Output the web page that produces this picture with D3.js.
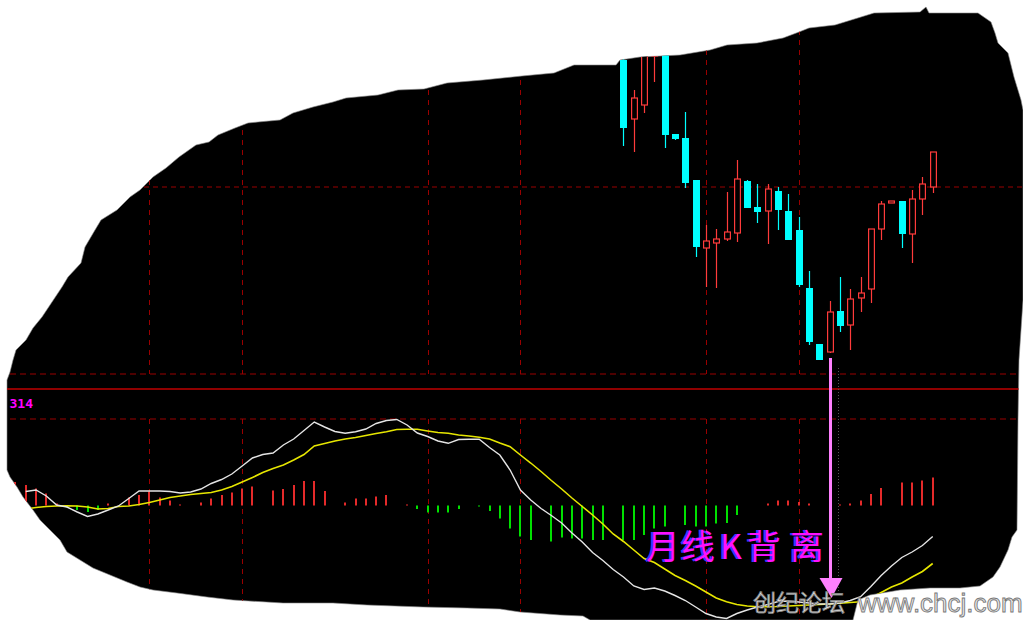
<!DOCTYPE html>
<html><head><meta charset="utf-8">
<script src="https://cdn.jsdelivr.net/npm/d3@7"></script>
<style>html,body{margin:0;padding:0;background:#fff;overflow:hidden}svg{display:block}</style>
</head><body><svg id="c" width="1023" height="620"></svg>
<script>
// ---------- DATA ----------
// monthly candles, periods 59..89
const candleStart = 59;
const candleOpen  = [6.40,5.81,5.95,6.44,6.55,5.66,5.62,5.20,4.52,4.57,4.61,4.67,5.19,4.93,4.89,5.09,4.89,4.70,4.12,3.56,3.48,3.89,3.75,4.02,4.11,4.71,4.97,4.99,4.66,5.01,5.13];
const candleHigh  = [6.45,6.10,6.50,6.80,6.65,5.66,5.88,5.20,4.75,4.71,5.08,5.40,5.20,5.16,5.16,5.13,5.06,4.83,4.29,3.56,3.99,4.23,4.11,4.23,4.71,4.99,4.99,4.99,5.10,5.23,5.48];
const candleLow   = [5.54,5.48,5.87,6.18,5.52,5.60,5.12,4.43,4.13,4.12,4.59,4.58,4.92,4.77,4.56,4.70,4.60,4.13,3.55,3.40,3.47,3.68,3.50,3.88,3.97,4.60,4.97,4.52,4.37,4.85,5.07];
const candleClose = [5.72,6.02,6.45,6.70,5.65,5.61,5.17,4.53,4.59,4.61,4.68,5.21,4.92,4.88,5.11,4.90,4.60,4.15,3.58,3.40,3.88,3.74,4.01,4.07,4.71,4.96,4.99,4.66,5.01,5.16,5.48];

// MACD, periods 0..89
const dif = [null,
 0.140,0.155,0.095,0.005,-0.015,-0.065,-0.110,-0.085,-0.045,-0.005,
 0.070,0.145,0.145,0.145,0.140,0.125,0.135,0.165,0.220,0.260,
 0.315,0.395,0.475,0.510,0.525,0.605,0.665,0.750,0.835,0.785,
 0.740,0.722,0.738,0.765,0.820,0.850,0.860,0.805,0.725,0.690,
 0.645,0.622,0.660,0.662,0.662,0.580,0.505,0.355,0.155,0.055,
 -0.030,-0.100,-0.175,-0.275,-0.365,-0.470,-0.550,-0.640,-0.715,-0.805,
 -0.840,-0.825,-0.855,-0.900,-0.950,-1.015,-1.080,-1.115,-1.130,-1.080,
 -1.045,-1.015,-0.990,-0.960,-0.955,-0.965,-0.975,-0.985,-0.985,-0.975,
 -0.950,-0.912,-0.810,-0.700,-0.605,-0.520,-0.465,-0.400,-0.310];
const dea = [null,
 -0.035,-0.020,-0.010,-0.005,-0.002,-0.005,-0.015,-0.035,-0.030,-0.010,
 -0.005,0.010,0.030,0.055,0.080,0.095,0.110,0.120,0.130,0.155,
 0.190,0.235,0.280,0.330,0.370,0.405,0.455,0.510,0.595,0.620,
 0.645,0.665,0.680,0.700,0.720,0.738,0.760,0.762,0.762,0.745,
 0.730,0.722,0.705,0.695,0.682,0.665,0.625,0.588,0.505,0.425,
 0.340,0.250,0.165,0.075,-0.010,-0.095,-0.185,-0.285,-0.360,-0.445,
 -0.530,-0.570,-0.635,-0.700,-0.750,-0.805,-0.865,-0.925,-0.962,-0.990,
 -1.005,-1.012,-1.012,-1.010,-1.005,-1.000,-0.995,-0.990,-0.985,-0.978,
 -0.970,-0.962,-0.925,-0.870,-0.815,-0.775,-0.715,-0.660,-0.580];
const macdHist = [
 0.235,0.205,0.17,0.12,0.02,-0.02,-0.045,-0.065,-0.045,0.02,
 null,0.08,0.105,0.14,0.08,0.05,0.01,null,0.03,0.07,
 0.105,0.13,0.17,0.19,null,0.15,0.165,0.205,0.245,0.245,
 0.145,null,0.03,0.07,0.07,0.09,0.105,null,0.01,-0.035,
 -0.07,-0.07,-0.07,-0.035,null,-0.01,-0.055,-0.13,-0.23,-0.31,
 -0.345,null,-0.36,-0.32,-0.33,-0.33,-0.345,-0.345,null,-0.345,
 -0.345,-0.295,-0.23,-0.21,null,-0.195,-0.21,-0.21,-0.18,-0.175,
 -0.095,null,null,0.02,0.05,0.05,0.035,0.02,null,0.01,
 0.01,0.02,0.05,0.115,0.175,null,0.23,0.23,0.25,0.28];

const gridPeriods = [13, 22, 40, 49, 67, 76];
const priceGrid = [5.13];
const macdLabel = "314";
const annotation = "月线K背离";
const arrowPeriod = 79;
const watermarkCn = "创纪论坛";
const watermarkEn = "www.chcj.com";

// torn-paper outline (decoration)
const paperEdge = [[10,372],[13,360],[16,350],[26,340],[33,328],[42,317],[52,302],[62,287],[68,277],[81,263],[85,247],[95,230],[101,220],[117,210],[130,197],[140,190],[153,177],[166,168],[179,157],[196,145],[209,142],[218,135],[235,128],[248,123],[258,122],[280,120],[293,113],[313,107],[333,102],[346,98],[378,95],[398,90],[424,89],[447,83],[483,80],[522,76],[554,73],[574,65],[616,65],[620,60],[640,57],[680,55],[710,50],[727,45],[757,43],[783,38],[799,32],[809,28],[835,25],[861,17],[874,13],[920,12],[926,7],[929,13],[978,13],[991,22],[995,33],[998,43],[1008,53],[1014,77],[1021,100],[1023,110],[1023,300],[1019,360],[1018,420],[1017,530],[1012,537],[1008,550],[1000,567],[993,577],[980,586],[960,588],[930,588],[900,590],[870,595],[858,600],[853,620],[590,620],[583,616],[560,615],[520,612],[500,609],[467,608],[423,607],[367,605],[333,603],[283,603],[233,600],[207,597],[177,593],[153,590],[140,587],[127,582],[110,575],[93,568],[80,560],[67,552],[60,540],[50,530],[40,520],[33,510],[23,497],[17,487],[10,477],[7,470],[7,380]];

// ---------- CHART ----------
const W = 1023, H = 620;
const svg = d3.select('#c');
const x  = d3.scaleLinear().domain([0, 89]).range([15.4, 932.7]);
const yP = d3.scaleLinear().domain([3.26, 7.0]).range([374, 0]);
const yM = d3.scaleLinear().domain([-1.145, 0.865]).range([620, 419]);

svg.append('rect').attr('width', W).attr('height', H).attr('fill', '#fff');
const edgeD = d3.line()(paperEdge) + 'Z';
svg.append('defs').append('clipPath').attr('id', 'paper').append('path').attr('d', edgeD);
svg.append('path').attr('d', edgeD).attr('fill', '#000').attr('stroke', '#888').attr('stroke-width', 0.6);

const g = svg.append('g').attr('clip-path', 'url(#paper)');
const gridCol = '#9a0000';

// panel frame lines
g.append('line').attr('x1', 0).attr('x2', W).attr('y1', yP.range()[0]).attr('y2', yP.range()[0])
  .attr('stroke', gridCol).attr('stroke-dasharray', '6,4');
g.append('line').attr('x1', 0).attr('x2', W).attr('y1', 389).attr('y2', 389)
  .attr('stroke', '#c00000').attr('stroke-width', 1.5);
g.append('line').attr('x1', 0).attr('x2', W).attr('y1', yM.range()[1]).attr('y2', yM.range()[1])
  .attr('stroke', gridCol).attr('stroke-dasharray', '6,4');
priceGrid.forEach(p => {
  g.append('line').attr('x1', 0).attr('x2', W).attr('y1', yP(p)).attr('y2', yP(p))
    .attr('stroke', gridCol).attr('stroke-dasharray', '5,4');
});
gridPeriods.forEach(p => {
  const xx = Math.round(x(p)) + 0.5;
  g.append('line').attr('x1', xx).attr('x2', xx).attr('y1', 0).attr('y2', yP.range()[0])
    .attr('stroke', gridCol).attr('stroke-dasharray', '5,5');
  g.append('line').attr('x1', xx).attr('x2', xx).attr('y1', yM.range()[1]).attr('y2', H)
    .attr('stroke', gridCol).attr('stroke-dasharray', '5,5');
});

// MACD histogram
const histData = macdHist.map((v, i) => ({p: i, v})).filter(d => d.v !== null);
g.selectAll('rect.h').data(histData).join('rect').attr('class', 'h')
  .attr('x', d => Math.round(x(d.p)) - 1).attr('width', 2)
  .attr('y', d => Math.min(yM(d.v), yM(0)))
  .attr('height', d => Math.max(1, Math.abs(yM(d.v) - yM(0))))
  .attr('fill', d => d.v >= 0 ? '#e52a2a' : '#00e000');

// DIF / DEA lines
const ln = d3.line().defined(d => d !== null).x((d, i) => x(i)).y(d => yM(d));
g.append('path').attr('d', ln(dea)).attr('fill', 'none').attr('stroke', '#e6e600').attr('stroke-width', 1.6);
g.append('path').attr('d', ln(dif)).attr('fill', 'none').attr('stroke', '#e4e4e4').attr('stroke-width', 1.4);

// candles
const candles = candleOpen.map((o, k) => ({
  p: candleStart + k, o, h: candleHigh[k], l: candleLow[k], c: candleClose[k]
}));
const bw = 7;
candles.forEach(d => {
  const cx = Math.round(x(d.p)) + 0.5;
  const up = d.c >= d.o;
  const top = yP(Math.max(d.o, d.c)), bot = yP(Math.min(d.o, d.c));
  if (up) {
    const col = '#ff3b3b';
    g.append('line').attr('x1', cx).attr('x2', cx).attr('y1', yP(d.h)).attr('y2', top).attr('stroke', col).attr('stroke-width', 1.2);
    g.append('line').attr('x1', cx).attr('x2', cx).attr('y1', bot).attr('y2', yP(d.l)).attr('stroke', col).attr('stroke-width', 1.2);
    g.append('rect').attr('x', cx - bw / 2 + 0.6).attr('width', bw - 1.2)
      .attr('y', top).attr('height', Math.max(1, bot - top))
      .attr('fill', '#000').attr('stroke', col).attr('stroke-width', 1.2);
  } else {
    const col = '#00ffff';
    g.append('line').attr('x1', cx).attr('x2', cx).attr('y1', yP(d.h)).attr('y2', yP(d.l)).attr('stroke', col).attr('stroke-width', 1.2);
    g.append('rect').attr('x', cx - bw / 2).attr('width', bw)
      .attr('y', top).attr('height', Math.max(1.5, bot - top)).attr('fill', col);
  }
});

// indicator label
g.append('text').attr('x', 33).attr('y', 408).attr('text-anchor', 'end')
  .attr('font-family', 'DejaVu Sans Mono, monospace').attr('font-size', 13).attr('font-weight', 'bold')
  .attr('fill', '#ff00ff').text(macdLabel);

// arrow
const ak = arrowPeriod - candleStart;
const ax = Math.round(x(arrowPeriod)) + 0.5;
const ay0 = yP(candleLow[ak]) + 5;
svg.append('line').attr('x1', ax + 8).attr('x2', ax + 8).attr('y1', ay0 + 10).attr('y2', 592)
  .attr('stroke', '#555').attr('stroke-width', 1).attr('stroke-dasharray', '1,2');
svg.append('line').attr('x1', ax).attr('x2', ax).attr('y1', ay0).attr('y2', 580)
  .attr('stroke', '#ff80ff').attr('stroke-width', 3);
svg.append('path').attr('d', `M${ax - 11},578 L${ax + 12},578 L${ax + 1},598 Z`).attr('fill', '#ff80ff');

// annotation text
const annX = [646, 681, 720, 747, 790];
const chars = Array.from(annotation);
[['#3a3aff', -2], ['#ff10ff', 0]].forEach(([col, dx]) => {
  const t = svg.append('text').attr('y', 559)
    .attr('font-family', 'Noto Sans CJK SC').attr('font-size', 34).attr('fill', col);
  chars.forEach((ch, i) => t.append('tspan').attr('x', annX[i] + dx).text(ch));
});

// watermark
svg.append('text').attr('x', 753).attr('y', 611)
  .attr('font-family', 'Noto Sans CJK SC').attr('font-size', 23)
  .attr('fill', '#e2e2e2').attr('stroke', '#7a7a7a').attr('stroke-width', 0.8)
  .text(watermarkCn);
svg.append('text').attr('x', 858).attr('y', 612)
  .attr('font-family', 'Liberation Sans, Arial, sans-serif').attr('font-size', 26)
  .attr('fill', '#e8e8e8').attr('stroke', '#7a7a7a').attr('stroke-width', 0.9)
  .text(watermarkEn);
</script>
</body></html>
